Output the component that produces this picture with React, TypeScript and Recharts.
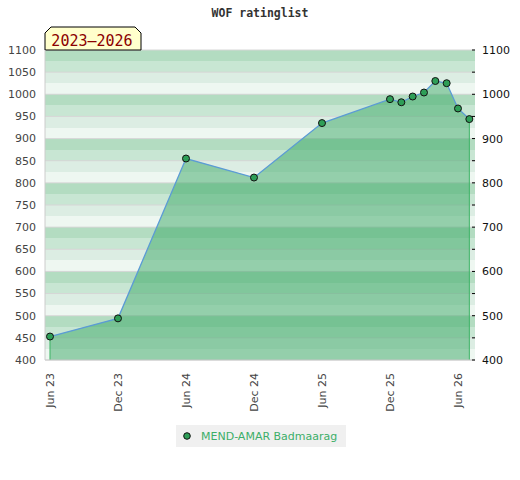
import React from "react";
import {
  ComposedChart,
  Area,
  Line,
  XAxis,
  YAxis,
  CartesianGrid,
  ReferenceLine,
  Legend,
  Customized,
} from "recharts";

const playerName = "MEND-AMAR Badmaarag";
const periodLabel = "2023–2026";
const chartTitle = "WOF ratinglist";

const dates = [
  "2023-06", "2023-12", "2024-06", "2024-12", "2025-06", "2025-12",
  "2026-01", "2026-02", "2026-03", "2026-04", "2026-05", "2026-06", "2026-07",
];
const ratings = [453, 494, 855, 812, 935, 989, 982, 995, 1004, 1030, 1025, 968, 944];

const xTickLabels = ["Jun 23", "Dec 23", "Jun 24", "Dec 24", "Jun 25", "Dec 25", "Jun 26"];
const xTickValues = [0, 6, 12, 18, 24, 30, 36];
const yTicks = [400, 450, 500, 550, 600, 650, 700, 750, 800, 850, 900, 950, 1000, 1050, 1100];
const stripeValues = [
  400, 425, 450, 475, 500, 525, 550, 575, 600, 625, 650, 675, 700, 725, 750,
  775, 800, 825, 850, 875, 900, 925, 950, 975, 1000, 1025, 1050, 1075, 1100,
];

const toMonthIndex = (d: string) => {
  const [y, m] = d.split("-").map(Number);
  return (y - 2023) * 12 + (m - 6);
};

const data = dates.map((d, i) => ({ m: toMonthIndex(d), r: ratings[i] }));
const first = data[0];
const last = data[data.length - 1];

const XTick = (props: any) => {
  const { x, y, payload } = props;
  const idx = xTickValues.indexOf(payload.value);
  return (
    <g transform={`translate(${x},${y})`}>
      <text
        transform="rotate(-90)"
        x={-13}
        y={0}
        dy="0.36em"
        textAnchor="end"
        fontSize={11}
        fontFamily="DejaVu Sans"
        fill="#444"
      >
        {idx >= 0 ? xTickLabels[idx] : ""}
      </text>
    </g>
  );
};

const RightTick = (props: any) => {
  const { x, y, payload } = props;
  const v = payload.value;
  return (
    <g>
      <line x1={x - 10} x2={x - 7} y1={y} y2={y} stroke="#000" strokeWidth={1} />
      {v % 100 === 0 ? (
        <text x={x} y={y} dy="0.36em" textAnchor="start" fontSize={11} fontFamily="DejaVu Sans" fill="#111">
          {v}
        </text>
      ) : null}
    </g>
  );
};

const LegendContent = (props: any) => {
  const items = (props.payload || []).filter((p: any) => p.value === playerName);
  return (
    <div
      style={{
        background: "#f0f0f0",
        width: 170,
        height: 22,
        display: "flex",
        alignItems: "center",
        boxSizing: "border-box",
        paddingLeft: 7,
      }}
    >
      {items.map((it: any) => (
        <div key={it.value} style={{ display: "flex", alignItems: "center" }}>
          <svg width={8} height={8} style={{ marginRight: 10 }}>
            <circle cx={4} cy={4} r={3.3} fill="#2e9e57" stroke="#111" strokeWidth={1} />
          </svg>
          <span style={{ fontFamily: "DejaVu Sans", fontSize: 11, color: "#3cae68" }}>{it.value}</span>
        </div>
      ))}
    </div>
  );
};

const Decorations = () => (
  <g>
    <text
      x={260}
      y={17}
      textAnchor="middle"
      fontFamily="DejaVu Sans Mono"
      fontWeight="bold"
      fontSize={11.5}
      fill="#333"
    >
      {chartTitle}
    </text>
    <path d="M45,50 L45,33 L51,27 L135,27 L141,33 L141,50 Z" fill="#ffffcc" stroke="#000" strokeWidth={1} />
    <text x={92} y={46} textAnchor="middle" fontFamily="DejaVu Sans Mono" fontSize={15} fill="#8b0000">
      {periodLabel}
    </text>
  </g>
);

export default function App() {
  return (
    <div style={{ position: "absolute", left: 0, top: 0, width: 520, height: 480, background: "#fff" }}>
      <ComposedChart
        width={520}
        height={480}
        data={data}
        margin={{ top: 50, right: 0, bottom: 60, left: 0 }}
      >
        <CartesianGrid
          yAxisId="l"
          vertical={false}
          horizontalValues={stripeValues}
          stroke="none"
          horizontalFill={["#b3dcc1", "#c8e6d3", "#dcede3", "#eef7f1"]}
          fillOpacity={1}
        />
        <CartesianGrid yAxisId="l" vertical={false} horizontalValues={yTicks} stroke="#d6d6d6" />
        <XAxis
          dataKey="m"
          type="number"
          domain={[-0.44, 37.5]}
          ticks={xTickValues}
          interval={0}
          height={60}
          tickLine={false}
          tickSize={0}
          tickMargin={0}
          axisLine={{ stroke: "#cccccc" }}
          tick={<XTick />}
        />
        <YAxis
          yAxisId="l"
          orientation="left"
          width={45}
          domain={[400, 1100]}
          ticks={yTicks}
          interval={0}
          tickLine={false}
          tickSize={0}
          tickMargin={9}
          axisLine={{ stroke: "#cccccc" }}
          tick={{ fontSize: 11, fontFamily: "DejaVu Sans", fill: "#444" }}
        />
        <YAxis
          yAxisId="r"
          orientation="right"
          width={45}
          domain={[400, 1100]}
          ticks={yTicks}
          interval={0}
          tickLine={false}
          tickSize={0}
          tickMargin={7}
          axisLine={false}
          tick={<RightTick />}
        />
        <Area
          yAxisId="l"
          dataKey="r"
          type="linear"
          stroke="none"
          fill="#3aa866"
          fillOpacity={0.5}
          baseValue={400}
          legendType="none"
          isAnimationActive={false}
        />
        <Line
          yAxisId="r"
          dataKey="r"
          type="linear"
          stroke="none"
          dot={false}
          activeDot={false}
          legendType="none"
          isAnimationActive={false}
        />
        <ReferenceLine
          yAxisId="l"
          segment={[{ x: first.m, y: 400 }, { x: first.m, y: first.r }]}
          stroke="#3cb364"
          strokeWidth={1}
        />
        <ReferenceLine
          yAxisId="l"
          segment={[{ x: last.m, y: 400 }, { x: last.m, y: last.r }]}
          stroke="#3cb364"
          strokeWidth={1}
        />
        <Line
          yAxisId="l"
          dataKey="r"
          name={playerName}
          type="linear"
          stroke="#5b9bd5"
          strokeWidth={1.3}
          dot={{ r: 3.5, fill: "#2e9e57", stroke: "#111", strokeWidth: 1 }}
          activeDot={false}
          isAnimationActive={false}
        />
        <Legend
          layout="vertical"
          verticalAlign="middle"
          align="center"
          content={<LegendContent />}
          wrapperStyle={{ position: "absolute", left: 176, top: 425, width: 170, height: 22 }}
        />
        <Customized component={<Decorations />} />
      </ComposedChart>
    </div>
  );
}
